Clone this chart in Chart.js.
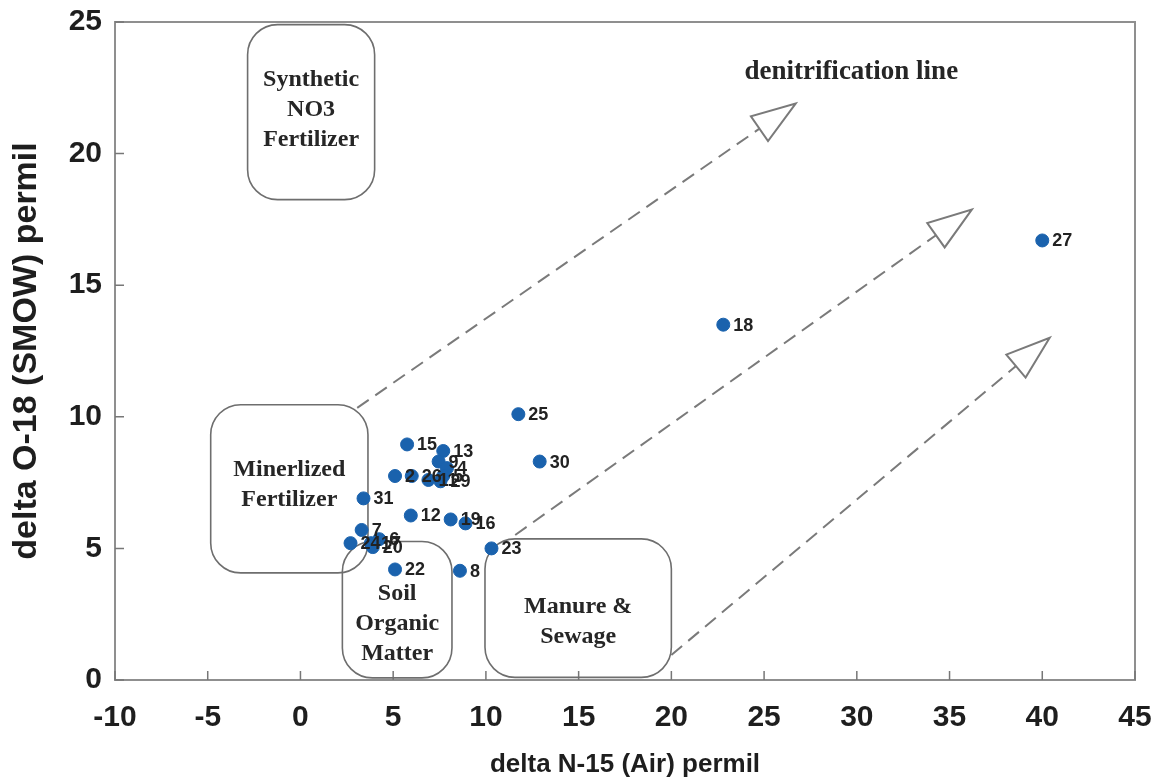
<!DOCTYPE html>
<html>
<head>
<meta charset="utf-8">
<script src="https://cdn.jsdelivr.net/npm/chart.js@4.4.0/dist/chart.umd.min.js"></script>
<style>
html, body { margin: 0; padding: 0; background: #fff; }
</style>
</head>
<body>
<canvas id="myChart" width="1151" height="784"></canvas>
<script>
// sample numbers and their isotope values (permil)
const sampleIds = ['27', '18', '25', '30', '15', '13', '9', '4', '2', '26', '11', '5', '29', '31', '12', '19', '16', '7', '24', '17', '6', '20', '22', '8', '23'];
const n15 = [40.0, 22.8, 11.75, 12.9, 5.75, 7.7, 7.45, 7.9, 5.1, 6.0, 6.9, 7.7, 7.55, 3.4, 5.95, 8.1, 8.9, 3.3, 2.7, 3.8, 4.25, 3.9, 5.1, 8.6, 10.3];
const o18 = [16.7, 13.5, 10.1, 8.3, 8.95, 8.7, 8.3, 8.05, 7.75, 7.75, 7.6, 7.75, 7.55, 6.9, 6.25, 6.1, 5.95, 5.7, 5.2, 5.2, 5.35, 5.05, 4.2, 4.15, 5.0];

// source fields drawn as rounded boxes (data units)
const sourceBoxes = [
    { lines: ['Synthetic', 'NO3', 'Fertilizer'], x0: -2.85, x1: 4.0, y0: 24.9, y1: 18.25, ty: 21.67 },
    { lines: ['Minerlized', 'Fertilizer'], x0: -4.84, x1: 3.64, y0: 10.46, y1: 4.07, ty: 7.41 },
    { lines: ['Soil', 'Organic', 'Matter'], x0: 2.26, x1: 8.17, y0: 5.26, y1: 0.08, ty: 2.13 },
    { lines: ['Manure &', 'Sewage'], x0: 9.95, x1: 20.0, y0: 5.36, y1: 0.1, ty: 2.2 }
];
// denitrification arrows: start and tip (data units)
const arrows = [
    { from: [3.06, 10.34], to: [26.7, 21.9] },
    { from: [11.58, 5.51], to: [36.2, 17.87] },
    { from: [20.0, 0.95], to: [40.4, 13.0] }
];

const sketch = {
    id: 'sketch',
    beforeDatasetsDraw(chart) {
        const { ctx, chartArea: a, scales: { x, y } } = chart;
        ctx.save();
        // frame
        ctx.strokeStyle = '#8f8f8f';
        ctx.lineWidth = 2;
        ctx.strokeRect(a.left, a.top, a.right - a.left, a.bottom - a.top);
        // inward tick marks
        ctx.lineWidth = 1.5;
        ctx.strokeStyle = '#777';
        ctx.beginPath();
        x.ticks.forEach(t => {
            const px = x.getPixelForValue(t.value);
            ctx.moveTo(px, a.bottom);
            ctx.lineTo(px, a.bottom - 9);
        });
        y.ticks.forEach(t => {
            const py = y.getPixelForValue(t.value);
            ctx.moveTo(a.left, py);
            ctx.lineTo(a.left + 9, py);
        });
        ctx.stroke();

        // dashed arrows with open heads
        arrows.forEach(ar => {
            const x0 = x.getPixelForValue(ar.from[0]), y0 = y.getPixelForValue(ar.from[1]);
            const x1 = x.getPixelForValue(ar.to[0]), y1 = y.getPixelForValue(ar.to[1]);
            const len = Math.hypot(x1 - x0, y1 - y0);
            const ux = (x1 - x0) / len, uy = (y1 - y0) / len;
            const bx = x1 - ux * 44, by = y1 - uy * 44;
            ctx.strokeStyle = '#7a7a7a';
            ctx.lineWidth = 2;
            ctx.setLineDash([14, 8]);
            ctx.beginPath();
            ctx.moveTo(x0, y0);
            ctx.lineTo(bx, by);
            ctx.stroke();
            ctx.setLineDash([]);
            ctx.beginPath();
            ctx.moveTo(x1, y1);
            ctx.lineTo(bx - uy * 15, by + ux * 15);
            ctx.lineTo(bx + uy * 15, by - ux * 15);
            ctx.closePath();
            ctx.fillStyle = '#fff';
            ctx.fill();
            ctx.stroke();
        });

        // source boxes
        sourceBoxes.forEach(b => {
            const l = x.getPixelForValue(b.x0), r = x.getPixelForValue(b.x1);
            const t = y.getPixelForValue(b.y0), btm = y.getPixelForValue(b.y1);
            ctx.strokeStyle = '#6e6e6e';
            ctx.lineWidth = 1.6;
            ctx.beginPath();
            ctx.roundRect(l, t, r - l, btm - t, 30);
            ctx.stroke();
            ctx.fillStyle = '#262626';
            ctx.font = 'bold 24px "Liberation Serif", "Times New Roman", serif';
            ctx.textAlign = 'center';
            ctx.textBaseline = 'middle';
            const cx = (l + r) / 2;
            const cy = y.getPixelForValue(b.ty);
            b.lines.forEach((txt, i) => {
                ctx.fillText(txt, cx, cy + (i - (b.lines.length - 1) / 2) * 30);
            });
        });

        ctx.font = 'bold 27px "Liberation Serif", "Times New Roman", serif';
        ctx.textAlign = 'center';
        ctx.fillText('denitrification line', x.getPixelForValue(29.7), y.getPixelForValue(23.1));
        ctx.restore();
    },
    afterDatasetsDraw(chart) {
        const { ctx } = chart;
        const meta = chart.getDatasetMeta(0);
        ctx.save();
        ctx.font = 'bold 18px "Liberation Sans", Arial, sans-serif';
        ctx.fillStyle = '#222';
        ctx.textAlign = 'left';
        ctx.textBaseline = 'middle';
        meta.data.forEach((pt, i) => {
            ctx.fillText(sampleIds[i], pt.x + 10, pt.y + 1);
        });
        ctx.restore();
    }
};

const tickFont = { family: '"Liberation Sans", Arial, sans-serif', size: 30, weight: 'bold' };

const ctx = document.getElementById('myChart').getContext('2d');
const myChart = new Chart(ctx, {
    type: 'scatter',
    data: {
        datasets: [{
            label: 'samples',
            data: n15.map((v, i) => ({ x: v, y: o18[i] })),
            backgroundColor: '#1a62ad',
            borderColor: '#1a62ad',
            pointRadius: 6.5,
            pointHoverRadius: 6.5
        }]
    },
    options: {
        responsive: false,
        animation: false,
        layout: { padding: { left: 6, right: 16, top: 22, bottom: 4 } },
        plugins: {
            legend: { display: false },
            tooltip: { enabled: false }
        },
        scales: {
            x: {
                type: 'linear',
                min: -10,
                max: 45,
                grid: { display: false, drawTicks: false },
                border: { display: false },
                ticks: { stepSize: 5, font: tickFont, color: '#1e1e1e', padding: 20 },
                title: {
                    display: true,
                    text: 'delta N-15 (Air) permil',
                    font: { family: '"Liberation Sans", Arial, sans-serif', size: 26, weight: 'bold' },
                    color: '#1e1e1e',
                    padding: 0
                },
                afterFit(s) { s.height = 100; s.paddingLeft = 0; s.paddingRight = 0; }
            },
            y: {
                type: 'linear',
                min: 0,
                max: 25,
                grid: { display: false, drawTicks: false },
                border: { display: false },
                ticks: { stepSize: 5, font: tickFont, color: '#1e1e1e', padding: 13 },
                title: {
                    display: true,
                    text: 'delta O-18 (SMOW) permil',
                    font: { family: '"Liberation Sans", Arial, sans-serif', size: 34, weight: 'bold' },
                    color: '#1e1e1e',
                    padding: 0
                },
                afterFit(s) { s.width = 109; s.paddingTop = 0; s.paddingBottom = 0; }
            }
        }
    },
    plugins: [sketch]
});
</script>
</body>
</html>
